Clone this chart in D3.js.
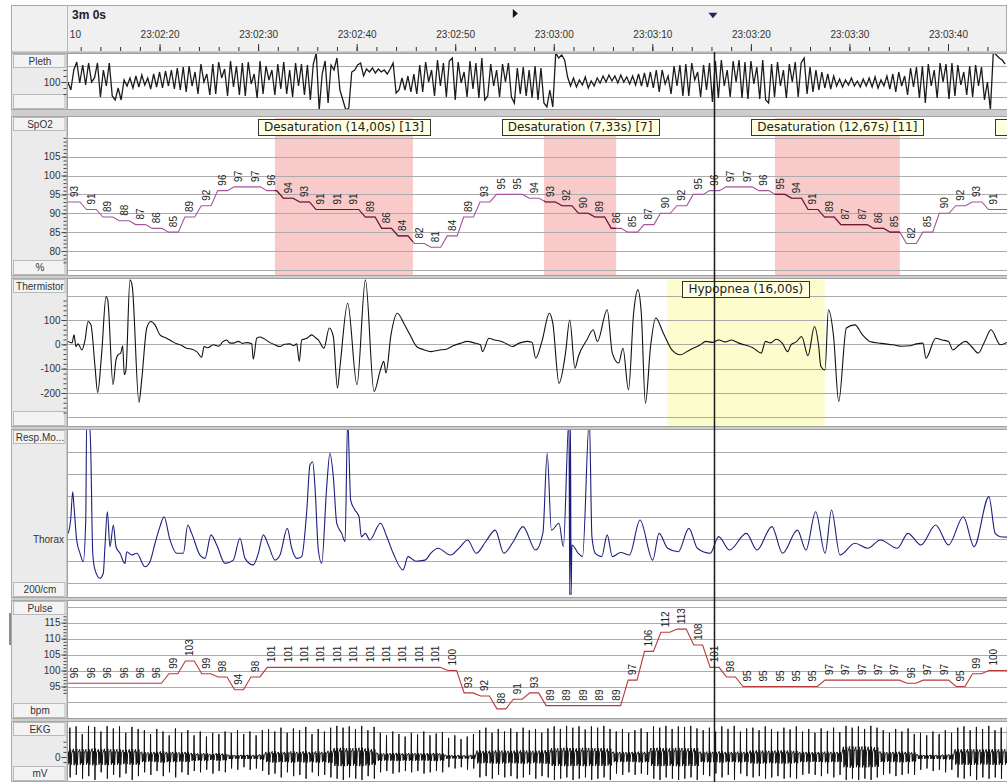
<!DOCTYPE html>
<html>
<head>
<meta charset="utf-8">
<script src="https://cdn.jsdelivr.net/npm/d3@7"></script>
<style>
  body { margin: 0; background: #fff; }
  svg { display: block; font-family: "Liberation Sans", Arial, sans-serif; }
</style>
</head>
<body>
<svg id="chart" width="1007" height="782"></svg>
<script>
// ---------- data (times are seconds after 23:02:00) ----------
const windowLabel = '3m 0s';
const timeTicks = [10, 20, 30, 40, 50, 60, 70, 80, 90, 100];
const cursorTime = 76.25;
const markerRightTime = 56.1;
const markerDownTime = 76.15;

const desaturations = [
  { start: 31.71, dur: 14.0, label: 'Desaturation (14,00s) [13]' },
  { start: 59.0, dur: 7.33, label: 'Desaturation (7,33s) [7]' },
  { start: 82.44, dur: 12.67, label: 'Desaturation (12,67s) [11]' },
  { start: 108.1, dur: 10.0, label: 'Desaturation (10,00s) [9]' },
];
const hypopneas = [{ start: 71.49, dur: 16.0, label: 'Hypopnea (16,00s)' }];

// Pleth, sampled every 0.3 s
const plethStart = 10.7, plethStep = 0.3;
const pleth = [
  100, 92, 112, 120, 99, 117, 97, 119, 100, 104,
  119, 85, 112, 96, 119, 86, 82, 94, 82, 102,
  96, 104, 94, 106, 95, 107, 97, 104, 93, 108,
  95, 110, 94, 111, 96, 112, 93, 114, 92, 115,
  90, 116, 96, 110, 88, 118, 100, 108, 87, 118,
  88, 120, 104, 113, 86, 121, 95, 116, 87, 119,
  86, 120, 98, 108, 84, 121, 88, 116, 102, 112,
  87, 118, 93, 120, 88, 112, 85, 119, 96, 118,
  87, 117, 82, 118, 129, 72, 108, 121, 79, 117,
  112, 124, 92, 82, 72, 74, 110, 112, 117, 119,
  106, 113, 110, 114, 109, 113, 110, 112, 108, 113,
  119, 89, 92, 104, 92, 106, 90, 108, 88, 117,
  90, 120, 100, 112, 86, 122, 96, 119, 85, 121,
  124, 82, 120, 99, 110, 85, 121, 93, 119, 84,
  124, 82, 86, 118, 96, 112, 85, 118, 100, 119,
  85, 79, 114, 88, 115, 86, 112, 84, 116, 82,
  114, 79, 75, 92, 75, 129, 124, 127, 122, 105,
  96, 104, 95, 102, 97, 105, 94, 101, 96, 104,
  99, 106, 100, 107, 101, 106, 99, 107, 100, 105,
  98, 106, 97, 108, 96, 109, 95, 110, 94, 112,
  90, 112, 98, 106, 88, 116, 96, 117, 86, 118,
  86, 119, 102, 110, 85, 117, 92, 119, 80, 121,
  84, 122, 96, 112, 85, 121, 100, 122, 84, 120,
  83, 121, 98, 115, 83, 122, 82, 79, 118, 85,
  120, 96, 112, 84, 118, 100, 120, 85, 119, 124,
  88, 115, 90, 112, 92, 110, 94, 108, 93, 106,
  96, 103, 95, 102, 97, 104, 96, 101, 95, 103,
  96, 104, 95, 105, 94, 102, 96, 106, 93, 108,
  90, 110, 96, 106, 87, 114, 95, 115, 84, 116,
  79, 118, 96, 112, 84, 119, 100, 118, 83, 119,
  86, 117, 97, 110, 87, 116, 85, 117, 96, 115,
  82, 100, 72, 130, 127, 124, 122, 118,
];

// SpO2 and Pulse, one reading every 1.664 s
const trendStart = 11.42, trendStep = 1.664;
const spo2 = [93, 91, 89, 88, 87, 86, 85, 89, 92, 96, 97, 97, 96, 94, 93, 91, 91, 91, 89, 86,
  84, 82, 81, 84, 89, 93, 95, 95, 94, 93, 92, 90, 89, 86, 85, 87, 90, 92, 95, 96,
  97, 97, 96, 95, 94, 91, 89, 87, 87, 86, 85, 82, 85, 90, 92, 93, 91];
const pulse = [96, 96, 96, 96, 96, 96, 99, 103, 99, 98, 94, 98, 101, 101, 101, 101, 101, 101, 101, 101,
  101, 101, 101, 100, 93, 92, 88, 91, 93, 89, 89, 89, 89, 89, 97, 106, 112, 113, 108, 101,
  98, 95, 95, 95, 95, 95, 97, 97, 97, 97, 97, 96, 97, 97, 95, 99, 100];

// Thermistor [time, value]
const thermistor = [
  [10.71, 12], [11.12, 6], [11.32, 39], [11.52, -9], [11.72, 2], [12.13, -23], [12.44, 18], [12.74, 94],
  [13.04, 80], [13.45, -91], [13.72, -198], [14.13, -35], [14.57, 196], [14.74, 183], [15.28, -166],
  [15.58, -64], [15.78, -43], [16.06, -36], [16.26, -6], [16.42, -125], [16.59, -105], [17.0, 265],
  [17.23, 238], [17.91, -239], [18.19, -146], [18.7, 67], [19.1, 94], [19.54, 80], [20.04, 39],
  [20.72, 25], [21.2, 14], [21.74, 2], [22.2, -4], [22.75, -16], [23.3, -20], [23.77, -30], [24.28, -53],
  [24.51, -9], [24.9, -14], [25.45, -2], [26.0, -8], [26.4, 10], [26.81, 18], [27.1, 6], [27.48, 5],
  [28.0, 12], [28.4, 4], [28.84, 7], [29.35, 2], [29.51, -61], [29.86, 25], [30.2, 30], [30.53, 25],
  [31.21, 7], [31.7, -2], [32.22, -9], [32.7, 0], [33.23, 2], [33.6, -6], [33.91, 2], [34.18, -70],
  [34.42, 18], [34.9, 24], [35.44, 39], [35.8, 28], [36.11, 18], [36.68, -16], [37.22, 67], [37.63, 32],
  [38.05, -180], [38.31, -91], [39.09, 169], [40.03, -166], [40.89, 265], [41.76, -194], [42.41, -105],
  [42.75, -70], [42.97, -118], [43.48, 39], [44.13, 128], [44.78, 87], [45.4, 40], [46.08, -9],
  [46.8, -22], [47.59, -30], [48.3, -24], [49.1, -20], [49.8, -6], [50.5, 4], [51.26, 12], [51.9, 6],
  [52.55, -2], [52.77, -30], [53.42, 25], [54.0, 18], [54.71, 12], [55.2, 2], [55.79, -9], [56.5, 5],
  [57.3, 12], [57.8, 8], [58.16, -57], [58.8, 12], [59.55, 128], [59.9, 87], [60.53, -160], [61.19, -36],
  [61.62, 100], [62.15, -98], [62.49, -50], [63.35, 18], [64.0, 60], [64.42, 12], [65.42, 142],
  [65.94, -36], [66.58, -77], [67.02, -16], [67.58, -187], [68.1, 128], [68.53, 224], [68.88, 128],
  [69.3, -242], [69.82, -9], [70.34, 108], [71.12, 46], [71.99, -23], [72.84, -43], [73.5, -30],
  [74.14, -16], [74.8, -4], [75.44, 12], [76.1, 8], [76.73, 18], [77.4, 10], [78.03, 18], [78.7, 6],
  [79.33, -2], [80.2, -14], [81.05, -36], [81.48, 12], [82.0, 6], [82.57, 21], [83.2, 4], [83.73, -30],
  [84.07, -2], [84.6, 10], [85.15, 32], [85.79, -47], [86.45, 73], [86.88, -9], [87.1, -91], [87.52, -105],
  [87.87, 142], [88.39, 32], [88.91, -235], [89.69, 67], [90.56, 80], [91.3, 40], [92.06, 12], [93.2, 4],
  [94.43, -2], [95.3, -8], [96.16, -6], [96.8, 2], [97.46, 5], [97.76, -57], [98.75, 25], [99.4, 18],
  [100.05, 12], [100.49, -23], [101.1, -4], [101.77, 12], [102.4, -10], [103.07, -36], [103.7, 10],
  [104.36, 60], [105.31, -2], [106.0, 8],
];

// Thorax (Resp. movement) [time, value in grid units]
const thorax = [
  [10.74, 0.27], [10.98, 0.88], [11.19, 2.17], [11.32, 1.49], [11.59, -0.03], [11.93, -0.64], [12.26, -1.02],
  [12.51, 0.88], [12.61, 5.5], [12.87, 5.5], [13.01, 4.23], [13.22, -0.64], [13.45, -1.4], [13.96, -1.78],
  [14.29, -1.55], [14.46, -0.34], [14.7, 1.26], [14.97, -0.34], [15.31, 0.65], [15.58, -0.34], [15.99, -0.64],
  [16.49, -1.1], [16.67, -0.57], [17.17, -0.72], [17.68, -0.64], [18.52, -1.25], [19.03, -1.02], [19.54, -0.18],
  [20.04, 0.58], [20.45, 1.03], [21.06, -0.03], [21.74, -0.64], [22.41, -0.64], [22.86, 0.65], [23.26, 0.27],
  [24.1, -0.72], [24.61, -0.87], [25.22, 0.2], [25.8, -0.26], [26.64, -1.1], [27.48, -0.95], [28.16, 0.05],
  [28.67, -0.87], [29.51, -1.17], [30.02, -0.64], [30.53, 0.2], [31.04, -0.26], [31.71, -0.95], [32.22, -0.72],
  [32.96, 0.5], [33.41, -0.41], [33.91, -0.87], [34.42, -0.79], [34.93, 1.26], [35.26, 3.39], [35.54, 3.54],
  [35.77, 2.4], [36.11, -0.49], [36.45, -1.1], [36.96, 2.4], [37.29, 3.93], [37.63, 2.86], [37.98, 0.73],
  [38.48, 0.27], [38.82, -0.11], [39.09, 5.5], [39.39, 1.79], [39.82, 1.34], [40.24, 1.03], [40.47, 0.12],
  [40.89, 0.27], [41.33, -0.03], [42.41, 0.73], [43.06, 0.12], [43.71, -0.64], [44.7, -1.4], [45.21, -0.79],
  [46.0, -1.0], [46.93, -0.95], [47.6, -0.6], [48.24, -0.41], [49.53, -0.72], [50.4, -0.4], [51.26, -0.03],
  [52.13, -0.64], [53.1, -0.1], [54.06, 0.42], [54.93, -0.64], [55.9, -0.1], [56.87, 0.58], [58.16, -0.49],
  [58.9, 0.3], [59.33, 3.93], [59.76, 0.42], [60.53, 0.73], [60.97, -0.34], [61.54, 5.5], [61.62, -2.54],
  [61.69, 5.5], [61.76, -2.54], [61.84, -0.26], [62.49, -0.64], [62.92, -0.79], [63.61, 5.5], [63.87, 0.12],
  [64.21, -0.64], [64.86, -0.79], [65.42, 0.2], [65.94, -0.79], [66.8, -0.6], [67.67, -0.72], [68.75, 0.88],
  [70.04, -0.95], [70.68, 0.27], [71.56, -0.41], [72.63, -0.57], [73.71, 0.5], [74.57, -0.41], [75.87, -0.64],
  [76.73, 0.12], [77.82, -0.49], [79.54, 0.27], [80.62, -0.49], [82.13, 0.58], [83.21, -0.64], [84.72, 0.42],
  [85.59, -0.49], [86.57, 1.26], [87.53, -0.64], [88.18, 1.34], [89.04, -0.72], [90.55, -0.18], [91.85, -0.41],
  [93.14, -0.03], [94.86, -0.41], [95.94, 0.27], [97.25, -0.26], [98.75, 0.65], [100.05, -0.26], [101.56, 1.03],
  [102.64, -0.34], [104.15, 1.95], [104.79, 0.27], [105.31, 0.12], [106.0, 0.1],
];

// EKG beats: [R height, S depth, baseline noise] in mV, one beat every 0.63 s
const ekgStart = 10.9, ekgPeriod = 0.63;
const ekgBeats = [
  [1.15, -0.8, .3], [1.2, -0.7, .32], [0.9, -0.85, .3], [1.22, -0.75, .3], [1.18, -0.9, .33], [1.0, -0.6, .3],
  [1.21, -0.85, .32], [1.12, -0.7, .3], [1.2, -0.8, .3], [0.95, -0.65, .28], [1.18, -0.9, .3], [1.1, -0.75, .3],
  [1.05, -0.6, .2], [0.9, -0.7, .18], [1.1, -0.55, .2], [1.0, -0.75, .22], [0.85, -0.6, .2], [1.12, -0.8, .2],
  [0.95, -0.6, .18], [1.05, -0.7, .2],
  [0.85, -0.55, .15], [1.0, -0.6, .14], [0.8, -0.5, .15], [0.95, -0.65, .12], [0.9, -0.55, .15], [1.0, -0.6, .13],
  [0.95, -0.45, .08], [1.05, -0.5, .07], [0.9, -0.4, .08], [1.0, -0.5, .08], [0.85, -0.45, .07], [1.05, -0.55, .1],
  [1.1, -0.7, .2], [1.0, -0.65, .22], [1.15, -0.8, .2], [0.95, -0.6, .2], [1.12, -0.75, .22], [1.05, -0.7, .2],
  [1.18, -0.85, .22], [0.9, -0.6, .2], [1.1, -0.75, .22], [1.0, -0.7, .2], [1.15, -0.8, .24],
  [1.22, -0.85, .35], [1.15, -0.9, .36], [1.2, -0.8, .35], [1.1, -0.85, .34], [1.22, -0.9, .36], [1.05, -0.75, .33],
  [1.18, -0.85, .3],
  [0.95, -0.6, .15], [0.85, -0.55, .14], [1.0, -0.65, .15], [0.9, -0.6, .16], [0.8, -0.55, .14], [0.95, -0.6, .15],
  [0.88, -0.55, .15], [1.0, -0.65, .14], [0.85, -0.6, .15], [0.92, -0.55, .16], [0.98, -0.6, .14],
  [0.75, -0.4, .07], [0.85, -0.45, .06], [0.7, -0.4, .07], [0.8, -0.5, .06], [0.9, -0.45, .08],
  [1.05, -0.8, .25], [1.15, -0.75, .24], [0.95, -0.85, .25], [1.1, -0.7, .26], [1.0, -0.8, .25], [1.12, -0.75, .24],
  [0.98, -0.85, .25], [1.15, -0.8, .26], [1.05, -0.7, .25], [1.1, -0.85, .24], [0.95, -0.75, .25], [1.12, -0.8, .27],
  [1.2, -0.9, .35], [1.1, -0.85, .34], [1.22, -0.8, .36], [1.15, -0.9, .35], [1.2, -0.85, .34], [1.08, -0.8, .36],
  [1.2, -0.9, .35], [1.15, -0.85, .34], [1.22, -0.8, .35], [1.1, -0.9, .33],
  [1.0, -0.65, .2], [1.1, -0.7, .2], [0.95, -0.6, .19], [1.05, -0.7, .2], [1.12, -0.65, .21], [0.98, -0.7, .2],
  [1.2, -0.85, .35], [1.15, -0.9, .36], [1.22, -0.8, .35], [1.1, -0.85, .34], [1.2, -0.9, .36], [1.18, -0.85, .35],
  [1.22, -0.8, .34], [1.12, -0.9, .35],
  [1.05, -0.7, .2], [1.15, -0.75, .21], [1.0, -0.65, .2], [1.2, -0.8, .22], [1.1, -0.7, .2], [1.22, -0.9, .2],
  [1.0, -0.65, .21], [1.12, -0.75, .2],
  [1.15, -0.8, .25], [1.05, -0.75, .26], [1.2, -0.85, .25], [1.1, -0.8, .24], [1.0, -0.75, .25], [1.15, -0.85, .26],
  [1.08, -0.8, .25], [1.2, -0.85, .24],
  [1.0, -0.7, .2], [1.1, -0.65, .2], [0.95, -0.7, .19], [1.12, -0.75, .2], [1.02, -0.65, .21], [1.15, -0.8, .2],
  [0.98, -0.7, .2],
  [1.22, -0.9, .4], [1.15, -0.85, .42], [1.2, -0.9, .4], [1.1, -0.85, .41], [1.22, -0.9, .4], [1.15, -0.8, .38],
  [1.05, -0.7, .2], [0.95, -0.65, .19], [1.1, -0.75, .2], [1.0, -0.7, .21], [1.12, -0.65, .2], [0.9, -0.7, .18],
  [0.95, -0.5, .08], [0.85, -0.45, .07], [1.0, -0.55, .08], [0.9, -0.5, .07], [1.05, -0.6, .09], [0.95, -0.5, .1],
  [1.15, -0.8, .3], [1.2, -0.85, .3], [1.05, -0.75, .31], [1.18, -0.9, .3], [1.1, -0.8, .29], [1.22, -0.85, .3],
  [1.05, -0.8, .31], [1.15, -0.85, .3], [1.2, -0.9, .3],
];

// axis tick labels
const plethTicks = [100];
const spo2Ticks = [80, 85, 90, 95, 100, 105];
const thermTicks = [-200, -100, 0, 100];
const pulseTicks = [95, 100, 105, 110, 115];
const ekgTicks = [0];

// ---------- layout ----------
const W = 1007, H = 782;
const colLeft = 12, plotLeft = 68, plotRight = W;
const svg = d3.select('#chart');
const x = d3.scaleLinear().domain([10, 100]).range([61, 948]);
const tEnd = x.invert(plotRight);

const panels = [
  { key: 'pleth', top: 53, bottom: 110, name: 'Pleth', unit: '', y: d3.scaleLinear().domain([72, 128]).range([110, 54]),
    grid: [85, 100, 116], ticks: plethTicks, minor: [88, 94, 106, 112] },
  { key: 'spo2', top: 116, bottom: 276, name: 'SpO2', unit: '%', y: d3.scaleLinear().domain([80, 105]).range([251, 156.7]),
    grid: [75, 80, 85, 90, 95, 100, 105, 110], ticks: spo2Ticks, minor: d3.range(77, 111) },
  { key: 'therm', top: 278, bottom: 427, name: 'Thermistor', unit: '', y: d3.scaleLinear().domain([-200, 100]).range([393, 320]),
    grid: [-300, -200, -100, 0, 100, 200], ticks: thermTicks, minor: d3.range(-280, 200, 20) },
  { key: 'thorax', top: 429, bottom: 598, name: 'Resp.Mo...', unit: '200/cm', y: d3.scaleLinear().domain([-2, 4]).range([583.1, 451.7]),
    grid: [-2, -1, 0, 1, 2, 3, 4], ticks: [], minor: [] },
  { key: 'pulse', top: 600, bottom: 719, name: 'Pulse', unit: 'bpm', y: d3.scaleLinear().domain([95, 115]).range([686.5, 622.7]),
    grid: [90, 95, 100, 105, 110, 115, 120], ticks: pulseTicks, minor: d3.range(93, 118) },
  { key: 'ekg', top: 721, bottom: 782, name: 'EKG', unit: 'mV', y: d3.scaleLinear().domain([0, 1]).range([757, 731.5]),
    grid: [1], ticks: ekgTicks, minor: [-0.2, 0.2, 0.4, 0.6] },
];
const P = Object.fromEntries(panels.map((p) => [p.key, p]));

svg.append('rect').attr('width', W).attr('height', H).attr('fill', '#fff');
svg.append('rect').attr('x', 11).attr('y', 5).attr('width', W - 11).attr('height', H - 5).attr('fill', '#cdcdcd');

// ---------- header ----------
const header = svg.append('g');
header.append('rect').attr('x', 11.5).attr('y', 5.5).attr('width', W - 12).attr('height', 46.5)
  .attr('fill', '#f0f0f0').attr('stroke', '#a8a8a8');
header.append('line').attr('x1', plotLeft - 0.5).attr('x2', plotLeft - 0.5).attr('y1', 5.5).attr('y2', 52)
  .attr('stroke', '#b8b8b8');
header.append('text').attr('x', 72).attr('y', 19).attr('font-weight', 'bold').attr('font-size', 12)
  .attr('fill', '#222').text(windowLabel);

svg.append('clipPath').attr('id', 'clip-head').append('rect')
  .attr('x', plotLeft + 2).attr('y', 0).attr('width', plotRight - plotLeft - 2).attr('height', 53);

const fmtTime = (s) => {
  const tot = 23 * 3600 + 2 * 60 + s;
  const p = (n) => String(Math.floor(n)).padStart(2, '0');
  return `${p(tot / 3600)}:${p((tot % 3600) / 60)}:${p(tot % 60)}`;
};
const headAxis = header.append('g').attr('clip-path', 'url(#clip-head)')
  .append('g').attr('transform', 'translate(0,51)');
headAxis.append('g')
  .call(d3.axisTop(x).tickValues(d3.range(10, 108, 2)).tickSize(4).tickFormat(''))
  .call((g) => g.select('.domain').remove());
headAxis.append('g')
  .call(d3.axisTop(x).tickValues(timeTicks).tickSize(7).tickPadding(6).tickFormat(fmtTime))
  .call((g) => g.select('.domain').remove())
  .call((g) => g.selectAll('text').attr('font-size', 10).attr('fill', '#333')
    .attr('font-family', '"Liberation Sans", Arial, sans-serif'));
headAxis.selectAll('line').attr('stroke', '#333');

header.append('path').attr('d', 'M-2.5,-4.5L2.5,0L-2.5,4.5Z').attr('fill', '#111')
  .attr('transform', `translate(${x(markerRightTime)},13.5)`);
header.append('path').attr('d', 'M-4.5,-2.8L4.5,-2.8L0,2.8Z').attr('fill', '#1c2470')
  .attr('transform', `translate(${x(markerDownTime)},15.5)`);

// ---------- panels ----------
panels.forEach((p) => {
  const h = p.bottom - p.top;
  const g = svg.append('g');
  // left column
  g.append('rect').attr('x', colLeft - 0.5).attr('y', p.top + 0.5).attr('width', plotLeft - colLeft - 0.5).attr('height', h - 1)
    .attr('fill', '#ebebeb').attr('stroke', '#a9a9a9');
  g.append('rect').attr('x', colLeft + 1.5).attr('y', p.top + 1.5).attr('width', plotLeft - colLeft - 4.5).attr('height', 13)
    .attr('fill', '#f3f3f3').attr('stroke', '#b9b9b9');
  g.append('text').attr('x', (colLeft + plotLeft) / 2).attr('y', p.top + 11.5).attr('text-anchor', 'middle')
    .attr('font-size', 10).attr('fill', '#333').text(p.name);
  g.append('rect').attr('x', colLeft + 1.5).attr('y', p.bottom - 15.5).attr('width', plotLeft - colLeft - 4.5).attr('height', 14)
    .attr('fill', '#f3f3f3').attr('stroke', '#b9b9b9');
  g.append('text').attr('x', (colLeft + plotLeft) / 2).attr('y', p.bottom - 5).attr('text-anchor', 'middle')
    .attr('font-size', 10).attr('fill', '#333').text(p.unit);
  // plot area
  g.append('rect').attr('x', plotLeft - 0.5).attr('y', p.top + 0.5).attr('width', plotRight - plotLeft + 1).attr('height', h - 1)
    .attr('fill', '#fff').attr('stroke', '#a0a0a0');
  svg.append('clipPath').attr('id', `clip-${p.key}`).append('rect')
    .attr('x', plotLeft).attr('y', p.top + 1).attr('width', plotRight - plotLeft).attr('height', h - 2);
  p.g = svg.append('g').attr('clip-path', `url(#clip-${p.key})`);
  p.regions = p.g.append('g');
  p.gridG = p.g.append('g');
  p.grid.forEach((v) => {
    p.gridG.append('line').attr('x1', plotLeft).attr('x2', plotRight)
      .attr('y1', Math.round(p.y(v)) + 0.5).attr('y2', Math.round(p.y(v)) + 0.5)
      .attr('stroke', '#ababab');
  });
  // left ruler
  if (p.minor.length) {
    const ax = svg.append('g').attr('transform', `translate(${plotLeft - 1.5},0)`);
    ax.append('g').call(d3.axisLeft(p.y).tickValues(p.minor).tickSize(3).tickFormat(''))
      .call((a) => a.select('.domain').remove());
    ax.append('g').call(d3.axisLeft(p.y).tickValues(p.ticks).tickSize(5).tickPadding(1).tickFormat(String))
      .call((a) => a.select('.domain').remove())
      .call((a) => a.selectAll('text').attr('font-size', 10).attr('fill', '#333')
        .attr('font-family', '"Liberation Sans", Arial, sans-serif'));
    ax.selectAll('line').attr('stroke', '#444');
  }
});
svg.append('text').attr('x', 64).attr('y', 543).attr('text-anchor', 'end').attr('font-size', 10)
  .attr('fill', '#333').text('Thorax');
svg.append('line').attr('x1', 10).attr('x2', 10).attr('y1', 613).attr('y2', 645).attr('stroke', '#666').attr('stroke-width', 1.5);

// ---------- event regions ----------
const sp = P.spo2;
sp.regions.selectAll('rect').data(desaturations).join('rect')
  .attr('x', (d) => x(d.start)).attr('width', (d) => x(d.start + d.dur) - x(d.start))
  .attr('y', sp.top + 2).attr('height', sp.bottom - sp.top - 2).attr('fill', '#f9caca');
const th = P.therm;
th.regions.selectAll('rect').data(hypopneas).join('rect')
  .attr('x', (d) => x(d.start)).attr('width', (d) => x(d.start + d.dur) - x(d.start))
  .attr('y', th.top + 2).attr('height', th.bottom - th.top - 2).attr('fill', '#fdfccc');

// ---------- traces ----------
const line = (yS, curve = d3.curveLinear) => d3.line().curve(curve).x((d) => x(d[0])).y((d) => yS(d[1]));

// pleth
P.pleth.g.append('path')
  .datum(pleth.map((v, i) => [plethStart + i * plethStep, v]))
  .attr('d', line(P.pleth.y)).attr('fill', 'none').attr('stroke', '#1c1c1c').attr('stroke-width', 1.3);

// stepped trends (SpO2, Pulse)
function trendPoints(values, half) {
  const pts = [];
  values.forEach((v, i) => {
    const t = trendStart + i * trendStep;
    pts.push([t - half, v], [t + half, v]);
  });
  pts.unshift([10, values[0]]);
  pts.push([tEnd + 1, values[values.length - 1]]);
  return pts;
}
const spoPts = trendPoints(spo2, 0.5);
sp.g.append('path').datum(spoPts).attr('d', line(sp.y)).attr('fill', 'none')
  .attr('stroke', '#a2559d').attr('stroke-width', 1.1);
const cd = svg.append('clipPath').attr('id', 'clip-desat');
desaturations.forEach((d) => cd.append('rect').attr('x', x(d.start)).attr('width', x(d.start + d.dur) - x(d.start))
  .attr('y', sp.top).attr('height', sp.bottom - sp.top));
sp.g.append('path').datum(spoPts).attr('d', line(sp.y)).attr('fill', 'none')
  .attr('stroke', '#6e1c2c').attr('stroke-width', 1.1).attr('clip-path', 'url(#clip-desat)');

const pu = P.pulse;
pu.g.append('path').datum(trendPoints(pulse, 0.45)).attr('d', line(pu.y)).attr('fill', 'none')
  .attr('stroke', '#b8393a').attr('stroke-width', 1.1);

function trendLabels(panel, values) {
  panel.g.append('g').selectAll('text').data(values).join('text')
    .attr('transform', (v, i) => `translate(${x(trendStart + i * trendStep) + 3.5},${panel.y(v) - 5}) rotate(-90)`)
    .attr('font-size', 10).attr('fill', '#222').text((v) => v);
}
trendLabels(sp, spo2);
trendLabels(pu, pulse);

// thermistor
th.g.append('path').datum(thermistor).attr('d', line(th.y, d3.curveMonotoneX)).attr('fill', 'none')
  .attr('stroke', '#111').attr('stroke-width', 1.1);

// thorax
const tx = P.thorax;
tx.g.append('path').datum(thorax).attr('d', line(tx.y, d3.curveMonotoneX)).attr('fill', 'none')
  .attr('stroke', '#1e1e7e').attr('stroke-width', 1.1);

// EKG
const ekgPts = [];
ekgBeats.forEach(([r, s, n], i) => {
  const t = ekgStart + i * ekgPeriod;
  ekgPts.push([t - 0.26, n], [t - 0.2, -n], [t - 0.14, n * 0.7], [t - 0.08, -n * 0.8], [t - 0.03, 0],
    [t, r], [t + 0.025, s], [t + 0.07, n], [t + 0.13, -n], [t + 0.19, n * 0.5]);
});
P.ekg.g.append('path').datum(ekgPts).attr('d', line(P.ekg.y)).attr('fill', 'none')
  .attr('stroke', '#111').attr('stroke-width', 1);

// ---------- annotation boxes ----------
function eventBoxes(panel, events) {
  const g = panel.g.append('g');
  events.forEach((d) => {
    const cx = x(d.start + d.dur / 2);
    const t = g.append('text').attr('y', panel.top + 15).attr('font-family', '"DejaVu Sans", Verdana, sans-serif')
      .attr('font-size', 12).attr('fill', '#222').text(d.label);
    const w = t.node().getComputedTextLength() + 12;
    g.insert('rect', 'text').attr('x', Math.round(cx - w / 2) + 0.5).attr('y', panel.top + 3.5)
      .attr('width', Math.round(w)).attr('height', 16).attr('fill', '#ffffe1').attr('stroke', '#333');
    if (cx + w / 2 > plotRight) t.remove();   // label runs past the visible window
    else t.attr('x', cx).attr('text-anchor', 'middle');
  });
}
eventBoxes(sp, desaturations);
eventBoxes(th, hypopneas);

// ---------- cursor ----------
svg.append('line').attr('x1', Math.round(x(cursorTime)) + 0.5).attr('x2', Math.round(x(cursorTime)) + 0.5)
  .attr('y1', 52).attr('y2', H).attr('stroke', '#1a1a1a').attr('stroke-width', 1.5);
</script>
</body>
</html>
